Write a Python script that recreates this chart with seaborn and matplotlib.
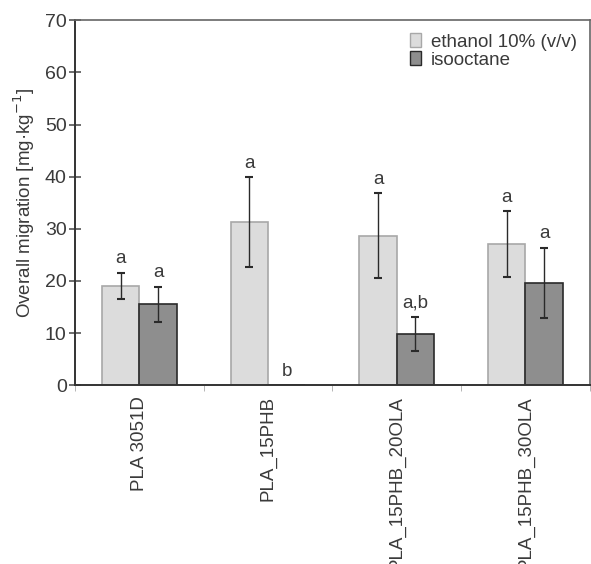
import numpy as np
import pandas as pd
import seaborn as sns
import matplotlib.pyplot as plt

samples = ["PLA 3051D", "PLA_15PHB", "PLA_15PHB_20OLA", "PLA_15PHB_30OLA"]
ethanol = [19.1, 31.3, 28.7, 27.1]
ethanol_err = [2.5, 8.6, 8.2, 6.3]
ethanol_lab = ["a", "a", "a", "a"]
isooctane = [15.5, 0.0, 9.8, 19.6]
isooctane_err = [3.4, 0.0, 3.3, 6.8]
isooctane_lab = ["a", "b", "a,b", "a"]
simulants = ["ethanol 10% (v/v)", "isooctane"]

df = pd.DataFrame({
    "sample": samples * 2,
    "simulant": [simulants[0]] * 4 + [simulants[1]] * 4,
    "value": ethanol + isooctane,
})

sns.set_style("ticks")
plt.rcParams['font.family'] = ['Liberation Sans', 'DejaVu Sans']
txt = "#3a3a3a"
plt.rcParams['text.color'] = txt
plt.rcParams['axes.labelcolor'] = txt
plt.rcParams['xtick.color'] = "#555555"
plt.rcParams['ytick.color'] = "#555555"
plt.rcParams['xtick.labelcolor'] = txt
plt.rcParams['ytick.labelcolor'] = txt

fig = plt.figure(figsize=(5.91, 5.64), dpi=100)
ax = fig.add_axes([0.127, 0.317, 0.871, 0.647])

pal = {simulants[0]: "#dcdcdc", simulants[1]: "#8e8e8e"}
sns.barplot(data=df, x="sample", y="value", hue="simulant", order=samples,
            hue_order=simulants, palette=pal, errorbar=None, width=0.58,
            saturation=1, ax=ax)

edges = ["#a8a8a8", "#2a2a2a"]
errs = [ethanol_err, isooctane_err]
vals = [ethanol, isooctane]
labs = [ethanol_lab, isooctane_lab]
bar_conts = list(ax.containers)
for k, cont in enumerate(bar_conts):
    for j, bar in enumerate(cont):
        bar.set_edgecolor(edges[k])
        bar.set_linewidth(1.2)
        xc = bar.get_x() + bar.get_width() / 2
        v, e = vals[k][j], errs[k][j]
        if e > 0:
            ax.errorbar(xc, v, yerr=e, fmt="none", ecolor="#2a2a2a",
                        elinewidth=1.0, capsize=3, capthick=1.5)
        ax.text(xc, v + e + 1.0, labs[k][j], ha="center", va="bottom",
                fontsize=13.5, color=txt)

ax.set_ylim(0, 70)
ax.set_xlim(-0.5, 3.5)
ax.set_yticks(np.arange(0, 71, 10))
ax.set_xlabel("")
ax.set_ylabel("Overall migration [mg·kg$^{-1}$]", fontsize=13.5, labelpad=6)
ax.set_xticks(np.arange(len(samples)))
ax.set_xticklabels(samples, rotation=90, fontsize=13.5)
ax.tick_params(axis="x", length=0, pad=8)
ax.set_xticks(np.arange(-0.5, 4.0, 1.0), minor=True)
ax.tick_params(axis="x", which="minor", length=4, color="#aaaaaa")
ax.tick_params(axis="y", labelsize=14, direction="inout", length=8, width=1.2, pad=2)

for s in ["left", "bottom"]:
    ax.spines[s].set_color("#333333")
    ax.spines[s].set_linewidth(1.4)
for s in ["top", "right"]:
    ax.spines[s].set_color("#666666")
    ax.spines[s].set_linewidth(1.2)

ax.legend(loc="upper right", frameon=False, fontsize=13.5, handlelength=0.6,
          handleheight=0.7, handletextpad=0.5, labelspacing=0.05,
          borderaxespad=0.3, title=None)
for h, ec in zip(ax.get_legend().legend_handles, edges):
    h.set_edgecolor(ec)

fig.savefig("out.png", dpi=100)
